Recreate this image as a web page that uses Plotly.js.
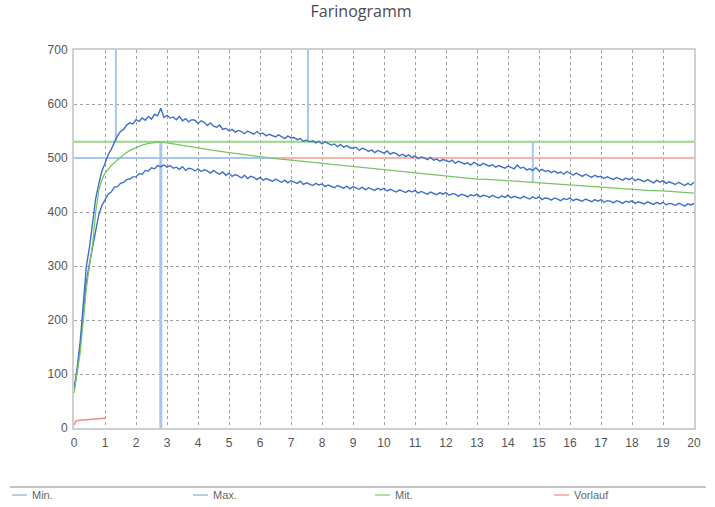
<!DOCTYPE html>
<html>
<head>
<meta charset="utf-8">
<script src="https://cdn.plot.ly/plotly-3.0.1.min.js"></script>
<style>html,body{margin:0;padding:0;background:#fff;}#chart{width:715px;height:507px;}</style>
</head>
<body>
<div id="chart"></div>
<script>
// Sampling step of the Min./Max. recordings (minutes)
var sampleStep = 0.1;

// Max. (upper envelope), one value every 0.1 min from 0 to 20
var maxValues = [
70,110,160,230,300,335,380,425,452,476,
490,506,516,530,541,549,553,561,565,563,
571,568,574,570,577,572,581,578,592,575,
579,574,576,571,577,569,573,567,571,570,
564,569,566,560,565,559,557,561,553,555,
550,553,548,551,549,545,550,547,544,549,
545,546,541,544,542,539,543,540,536,541,
537,538,534,536,531,533,530,532,528,531,
526,530,527,524,526,521,525,520,523,519,
518,520,514,518,516,512,515,510,514,511,
509,513,507,510,508,504,507,503,506,501,
504,499,502,500,497,501,496,498,494,497,
495,493,496,490,494,492,489,491,487,492,
489,486,490,487,485,488,483,486,484,481,
485,482,480,487,481,483,478,480,477,482,
476,479,475,477,473,476,472,474,470,475,
471,468,472,469,466,470,467,464,468,465,
466,462,465,463,460,464,461,459,463,460,
463,458,461,459,456,460,457,454,459,455,
458,453,456,454,451,455,452,449,453,450,
455
];

// Min. (lower envelope), one value every 0.1 min from 0 to 20
var minValues = [
70,105,150,215,270,305,335,365,395,412,
423,433,437,446,447,453,455,460,461,465,
465,471,470,477,476,482,480,486,484,487,
483,486,481,483,479,484,477,481,480,476,
480,475,478,476,472,477,473,470,474,468,
472,466,469,467,463,468,462,466,464,460,
464,459,462,460,457,461,458,455,459,454,
458,455,453,457,451,454,452,449,453,450,
452,447,450,448,445,449,446,444,448,443,
447,444,442,446,441,445,443,440,444,441,
444,439,442,440,437,441,438,436,440,437,
440,435,438,436,433,437,435,432,436,433,
436,431,434,433,429,433,431,428,432,430,
433,428,431,430,427,431,428,426,430,427,
431,426,429,427,425,429,426,424,428,425,
428,423,426,425,422,426,424,421,425,423,
426,421,424,422,420,424,421,419,423,420,
423,418,421,420,417,421,419,416,420,418,
421,416,419,417,415,419,416,414,418,415,
418,413,416,415,412,416,414,411,415,413,
416
];

// Mit. (mean curve)
var mitTime = [0,0.1,0.2,0.3,0.4,0.5,0.6,0.7,0.8,0.9,1.0,1.2,1.4,1.6,1.8,2.0,2.2,2.4,2.6,2.8,3.0,3.5,4.0,4.5,5.0,5.5,6.0,6.5,7.0,7.5,8.0,8.5,9.0,9.5,10.0,10.5,11.0,11.5,12.0,12.5,13.0,13.5,14.0,14.5,15.0,15.5,16.0,16.5,17.0,17.5,18.0,18.5,19.0,19.5,20.0];
var mitValues = [65,100,140,200,260,300,340,400,440,460,472,486,496,506,514,519,524,527,529,530,528,523,518,514,510,506,502,499,496,493,491,488,484,481,478,475,472,470,467,464,461,460,458,455,453,451,449,448,446,444,442,440,439,437,435];

// Vorlauf (pre-run)
var vorlaufTime = [0,0.05,0.1,0.3,0.6,1.0];
var vorlaufValues = [5,12,14,15,16,18];

// Reference levels
var consistencyLine = 500;
var peakLevel = 530;
var axisEnd = 20;
var targetBlueEnd = 6.6;

// Evaluation markers (minutes) and their spans
var markerX    = [1.35, 2.8, 7.55, 14.8];
var markerFrom = [530, 0, 530, 454];
var markerTo   = [700, 530, 700, 530];
var markerW    = [2, 3, 2, 2];

// Axis ticks
var xTicks = [0,1,2,3,4,5,6,7,8,9,10,11,12,13,14,15,16,17,18,19,20];
var yTicks = [0,100,200,300,400,500,600,700];

// Legend entries
var legendNames  = ['Min.', 'Max.', 'Mit.', 'Vorlauf'];
var legendColors = ['#9fbce4', '#9fbce4', '#98d488', '#f3a0a0'];

var timeAxis = maxValues.map(function(_, i){ return +(i * sampleStep).toFixed(1); });

var blueMain = '#3f6fc6';
var blueLight = '#a8c6ec';
var greenC = '#78c466';
var greenLight = '#9ad58a';
var redC = '#f08a8a';

var traces = [];
traces.push({x:[0, axisEnd], y:[consistencyLine, consistencyLine], mode:'lines', line:{color:'#f6b3a8', width:2}, showlegend:false, hoverinfo:'skip'});
traces.push({x:[0, targetBlueEnd], y:[consistencyLine, consistencyLine], mode:'lines', line:{color:blueLight, width:2}, showlegend:false, hoverinfo:'skip'});
traces.push({x:[0, axisEnd], y:[peakLevel, peakLevel], mode:'lines', line:{color:greenLight, width:2}, showlegend:false, hoverinfo:'skip'});
for (var i = 0; i < markerX.length; i++) {
  traces.push({x:[markerX[i], markerX[i]], y:[markerFrom[i], markerTo[i]], mode:'lines', line:{color:blueLight, width:markerW[i]}, showlegend:false, hoverinfo:'skip'});
}
traces.push({name:'Min.', x:timeAxis, y:minValues, mode:'lines', line:{color:blueMain, width:1.4}, showlegend:false});
traces.push({name:'Max.', x:timeAxis, y:maxValues, mode:'lines', line:{color:blueMain, width:1.4}, showlegend:false});
traces.push({name:'Mit.', x:mitTime, y:mitValues, mode:'lines', line:{color:greenC, width:1.3}, showlegend:false});
traces.push({name:'Vorlauf', x:vorlaufTime, y:vorlaufValues, mode:'lines', line:{color:redC, width:1.5}, showlegend:false});

// Legend row drawn below the plot (pixel geometry converted to paper units)
var plotL = 74, plotW = 620, plotB = 428, plotH = 378;
function px2x(p){ return (p - plotL) / plotW; }
function py2y(p){ return (plotB - p) / plotH; }
var legendSwatchPx = [12, 193, 375, 554];
var legendRowPy = 495;

var shapes = [{type:'line', xref:'paper', yref:'paper', x0:px2x(10), x1:px2x(706), y0:py2y(487), y1:py2y(487), line:{color:'#c4c4c4', width:2}}];
var annotations = [];
for (var k = 0; k < legendNames.length; k++) {
  shapes.push({type:'line', xref:'paper', yref:'paper', x0:px2x(legendSwatchPx[k]), x1:px2x(legendSwatchPx[k] + 15), y0:py2y(legendRowPy), y1:py2y(legendRowPy), line:{color:legendColors[k], width:1.5}});
  annotations.push({xref:'paper', yref:'paper', x:px2x(legendSwatchPx[k] + 18), y:py2y(legendRowPy), xanchor:'left', yanchor:'middle', showarrow:false,
                    text:legendNames[k], font:{family:'Liberation Sans, Arial, sans-serif', size:11, color:'#666'}});
}

var layout = {
  width:715, height:507,
  margin:{l:74, r:21, t:50, b:79},
  paper_bgcolor:'#fff', plot_bgcolor:'#fff',
  font:{family:'Liberation Sans, Arial, sans-serif', color:'#555', size:12},
  title:{text:'Farinogramm', x:0.505, xanchor:'center', xref:'container', y:0.977, yanchor:'middle', font:{family:'Open Sans, sans-serif', size:16, color:'#4a4a4a'}},
  xaxis:{range:[0,20], tickvals:xTicks, ticktext:xTicks.map(String), showgrid:true, gridcolor:'#a0a0a0', griddash:'dot', gridwidth:1,
         showline:true, mirror:true, linecolor:'#cfcfcf', linewidth:2, zeroline:false, ticks:'', ticklen:0, ticklabelstandoff:3, tickfont:{size:12, color:'#555'}, fixedrange:true},
  yaxis:{range:[0,700], tickvals:yTicks, ticktext:yTicks.map(String), showgrid:true, gridcolor:'#a0a0a0', griddash:'dot', gridwidth:1,
         showline:true, mirror:true, linecolor:'#cfcfcf', linewidth:2, zeroline:false, ticks:'', ticklabelstandoff:2, tickfont:{size:12, color:'#555'}, fixedrange:true},
  showlegend:false,
  shapes:shapes,
  annotations:annotations
};

Plotly.newPlot('chart', traces, layout, {displayModeBar:false, staticPlot:true});
</script>
</body>
</html>
